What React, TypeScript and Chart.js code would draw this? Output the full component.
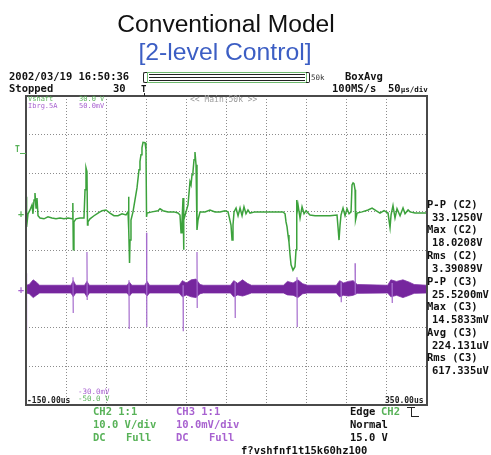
import React, { useEffect, useRef } from "react";
import { Chart, registerables } from "chart.js";

Chart.register(...registerables);

// ---- time base / vertical scales (as shown on the scope) ----
const timeStartUs = -150;
const timeEndUs = 350;
const timeStepUs = 50;
const greenVoltsMin = -50; // CH2, 10 V/div
const greenVoltsMax = 30;
const purpleMvMin = -30; // CH3, 10 mV/div
const purpleMvMax = 50;

// ---- CH2 (Vshaft, volts) ----
const greenTimeUs = [
  -150, -149.5, -149, -147.5, -145, -142.5, -141.3, -140, -138.8, -137.5, -136.3, -135, -132.5, -127.6, -122.6,
  -117.6, -112.6, -107.6, -102.6, -97.6, -92.6, -91.6, -91, -90.2, -87.7, -82.7, -77.7, -76.4, -75.2, -74, -73.3,
  -72.7, -70.2, -65.2, -60.2, -55.2, -50.2, -45.3, -40.3, -35.3, -30.3, -25.3, -22.8, -22.2, -21.6, -20.9, -20.3,
  -19.1, -16.6, -14.1, -11.6, -9.1, -7.9, -6.6, -5.4, -4.1, -1.6, -0.4, 0.3, 0.9, 7.1, 14.6, 17.1, 20.8, 27.1,
  34.6, 39.5, 42, 43.3, 44.5, 45.8, 46.4, 47, 49.5, 52, 54.5, 55.8, 57, 58.2, 59.5, 60.7, 62, 63.2, 64.5, 67, 73.2,
  79.4, 85.7, 91.9, 98.1, 101.9, 105.6, 106.9, 108.1, 109.4, 111.9, 114.4, 116.9, 119.4, 121.8, 124.3, 126.8,
  129.3, 135.6, 148, 160.5, 170.5, 173, 174.2, 175.5, 176.7, 177.9, 179.2, 180.5, 182.9, 185.4, 186.7, 187.3,
  187.9, 189.2, 191.7, 194.2, 196.7, 199.2, 204.1, 210.4, 216.6, 229.1, 237.8, 239.1, 240.3, 241.6, 242.8, 245.3,
  247.8, 250.3, 252.8, 255.3, 256.5, 257.8, 259, 260.3, 260.9, 262.8, 269, 276.5, 281.5, 286.4, 291.4, 296.4,
  301.4, 303.9, 305.2, 307.6, 310.1, 312.6, 316.4, 320.1, 322.6, 326.4, 328.8, 335.1, 350,
];
const greenVolts = [
  -0.3, 3.9, -3.9, -0.5, 0.5, 1.8, -0.5, 3.1, 4.9, 1.0, 3.6, -1.0, -1.6, -1.8, -1.3,
  -1.6, -1.8, -1.6, -1.8, -1.6, -1.8, 2.3, -9.8, -2.6, -1.8, -1.6, -1.6, 5.7, 11.4, 10.4, -3.4,
  -2.6, -1.8, -1.0, -0.3, 0.3, 0.5, -0.3, -1.0, -1.0, -0.5, -0.8, 0, 3.9, -4.7, -13.2, -7.3,
  -2.1, 0, 3.1, 6.2, 10.9, 13.0, 14.8, 16.6, 18.0, 17.9, 16.1, -1.3, -0.3, 0, 0.3, 0.8, 0.3, 0,
  0, -0.3, -0.8, -5.4, -2.6, 3.6, -9.8, -2.1, 0, 1.8, 7.8, 7.0, 9.6, 10.4, 13.5, 15.5, 12.2, -4.7, -2.1, 0, 0,
  0.5, 0, 0, 0.3, 0, -3.4, -7.3, -3.4, 0, 1.0, -1.0, 1.0, -1.0, 1.3, -0.5, 0.5,
  -0.3, 0, 0, 0, 0, -0.5, -2.6, -3.9, -6.0, -7.8, -11.1, -13.7, -15.1, -14.2, -9.8, 3.1,
  -0.8, 1.8, -1.6, 1.3, -0.5, 0.3, -0.8, -1.0, -1.0, -1.0, -0.8, -4.1, -7.3, -3.4, -0.8, 1.0,
  -1.0, 0.8, -0.5, 0, 7.0, 7.5, 7.3, 5.7, -2.1, -0.3, 0, 0.5, 1.0, 0.3, -0.3, 0.3,
  -0.3, -4.1, -0.8, 1.6, -1.6, 0.8, -1.0, 1.0, -0.5, 0.5, 0, -0.3, -0.3,
];

// ---- CH3 (Ibrg, millivolts): noise envelope + spikes ----
const purpleBandTimeUs = [
  -150, -146, -141, -137, -133, -94, -91, -88, -77, -74, -71, -24, -21, -18, -2, 1, 4, 41, 45, 50, 56, 62, 67, 71,
  105, 109, 114, 120, 126, 131, 171, 176, 183, 189, 195, 201, 237, 241, 246, 252, 258, 263, 301, 305, 312, 320,
  328, 334, 350,
];
const purpleBandUpperMv = [
  1.0, 1.2, 2.4, 1.8, 1.0, 1.0, 2.2, 1.0, 1.0, 2.0, 1.0, 1.0, 1.8, 1.0, 1.0, 2.0, 1.0, 1.0, 2.2, 1.6, 2.4, 2.6, 1.2, 1.0,
  1.0, 2.2, 1.5, 2.4, 1.5, 1.0, 1.0, 2.0, 1.6, 2.4, 1.4, 1.0, 1.0, 2.2, 1.6, 2.0, 2.2, 1.2, 1.0, 2.4, 2.0, 2.4,
  1.8, 1.2, 1.0,
];
const purpleBandLowerMv = [
  -1.0, -1.2, -2.2, -1.6, -1.0, -1.0, -2.0, -1.0, -1.0, -2.0, -1.0, -1.0, -1.8, -1.0, -1.0, -1.8, -1.0, -1.0, -2.0, -1.5,
  -2.0, -2.2, -1.2, -1.0, -1.0, -2.0, -1.5, -1.8, -1.4, -1.0, -1.0, -1.5, -1.6, -2.2, -1.2, -1.0, -1.0, -2.0, -1.6,
  -1.8, -1.6, -1.1, -1.0, -2.0, -1.6, -2.2, -1.6, -1.1, -1.0,
];
const purpleSpikeTimeUs = [-149.6, -91.4, -74, -21.6, 0.3, 45.8, 63.2, 110.6, 187.9, 242.8, 260.3, 306.4];
const purpleSpikeHighMv = [4.1, 3.1, 9.6, 2.3, 14.6, 1.0, 9.6, 1.8, 3.1, 1.8, 6.7, 1.6];
const purpleSpikeLowMv = [-10.6, -6.2, -2.8, -10.3, -9.8, -10.9, -4.9, -7.5, -9.8, -3.4, -1.3, -3.6];

// ---- texts ----
const titleLines = ["Conventional Model", "[2-level Control]"];
const timeAxisLabels = ["-150.00us", "350.00us"];
const measurementLabels = ["P-P (C2)", "Max (C2)", "Rms (C2)", "P-P (C3)", "Max (C3)", "Avg (C3)", "Rms (C3)"];
const measurementValues = ["33.1250V", "18.0208V", "3.39089V", "25.5200mV", "14.5833mV", "224.131uV", "617.335uV"];
const ch2Lines = ["CH2 1:1", "10.0 V/div"];
const ch3Lines = ["CH3 1:1", "10.0mV/div"];
const triggerLines = ["Normal", "15.0 V"];

const MONO = "'DejaVu Sans Mono', 'Liberation Mono', monospace";
const SANS = "'Liberation Sans', Arial, sans-serif";
const GREEN_TXT = "rgb(88,178,88)";
const PURPLE_TXT = "rgb(168,98,208)";

function T(props: {
  x: number;
  y: number;
  s?: number;
  c?: string;
  w?: number;
  f?: string;
  style?: React.CSSProperties;
  children: React.ReactNode;
}) {
  const s = props.s ?? 10.5;
  return (
    <div
      style={{
        position: "absolute",
        left: props.x,
        top: props.y - s / 2,
        fontSize: s,
        lineHeight: `${s}px`,
        color: props.c ?? "#111",
        fontWeight: props.w ?? 700,
        fontFamily: props.f ?? MONO,
        whiteSpace: "pre",
        ...props.style,
      }}
    >
      {props.children}
    </div>
  );
}

function Box(props: { x: number; y: number; w: number; h: number; style?: React.CSSProperties }) {
  return (
    <div
      style={{
        position: "absolute",
        left: props.x,
        top: props.y,
        width: props.w,
        height: props.h,
        boxSizing: "border-box",
        ...props.style,
      }}
    />
  );
}

const framePlugin = {
  id: "scopeFrame",
  beforeDraw(chart: any) {
    const { ctx, width, height } = chart;
    ctx.save();
    ctx.fillStyle = "#ffffff";
    ctx.fillRect(0, 0, width, height);
    ctx.restore();
  },
  afterDraw(chart: any) {
    const { ctx, chartArea: a } = chart;
    ctx.save();
    ctx.strokeStyle = "#4a4a4a";
    ctx.lineWidth = 2;
    ctx.strokeRect(a.left, a.top, a.right - a.left, a.bottom - a.top);
    ctx.restore();
  },
};

export default function App() {
  const ref = useRef<HTMLCanvasElement>(null);

  useEffect(() => {
    if (!ref.current) return;
    const green = greenTimeUs.map((t, i) => ({ x: t, y: greenVolts[i] }));
    const upper = purpleBandTimeUs.map((t, i) => ({ x: t, y: purpleBandUpperMv[i] }));
    const lower = purpleBandTimeUs.map((t, i) => ({ x: t, y: purpleBandLowerMv[i] }));
    const spikes: { x: number; y: number | null }[] = [];
    purpleSpikeTimeUs.forEach((t, i) => {
      spikes.push({ x: t, y: purpleSpikeHighMv[i] });
      spikes.push({ x: t + 0.3, y: purpleSpikeLowMv[i] });
      spikes.push({ x: t + 0.35, y: null });
    });
    const gridOpts = { color: "#8c8c8c", lineWidth: 1, drawTicks: false };
    const borderOpts = { display: false, dash: [1, 2] };
    const chart = new Chart(ref.current, {
      type: "line",
      data: {
        datasets: [
          {
            data: green,
            yAxisID: "y",
            borderColor: "rgb(60,162,60)",
            borderWidth: 1.5,
            pointRadius: 0,
            fill: false,
          },
          {
            data: spikes as any,
            yAxisID: "y2",
            borderColor: "rgb(165,108,205)",
            borderWidth: 1.2,
            pointRadius: 0,
            spanGaps: false,
            fill: false,
          },
          {
            data: upper,
            yAxisID: "y2",
            borderColor: "rgb(128,52,168)",
            backgroundColor: "rgb(118,38,158)",
            borderWidth: 0.8,
            pointRadius: 0,
            fill: "+1",
          },
          {
            data: lower,
            yAxisID: "y2",
            borderColor: "rgb(128,52,168)",
            borderWidth: 0.8,
            pointRadius: 0,
            fill: false,
          },
        ],
      },
      options: {
        animation: false,
        responsive: false,
        maintainAspectRatio: false,
        layout: { padding: { left: 26, top: 96, right: 64, bottom: 50 } },
        plugins: { legend: { display: false }, tooltip: { enabled: false }, title: { display: false } },
        elements: { line: { tension: 0 }, point: { radius: 0 } },
        scales: {
          x: {
            type: "linear",
            min: timeStartUs,
            max: timeEndUs,
            ticks: { display: false, stepSize: timeStepUs },
            grid: gridOpts,
            border: borderOpts,
          },
          y: {
            type: "linear",
            min: greenVoltsMin,
            max: greenVoltsMax,
            ticks: { display: false, stepSize: 10 },
            grid: gridOpts,
            border: borderOpts,
          },
          y2: {
            type: "linear",
            display: false,
            min: purpleMvMin,
            max: purpleMvMax,
          },
        },
      } as any,
      plugins: [framePlugin],
    });
    return () => chart.destroy();
  }, []);

  return (
    <div style={{ position: "absolute", left: 0, top: 0, width: 491, height: 455, background: "#fff", overflow: "hidden" }}>
      <canvas ref={ref} width={491} height={455} style={{ position: "absolute", left: 0, top: 0, width: 491, height: 455 }} />

      {/* title */}
      <T x={226} y={24} s={23} c="#111" w={400} f={SANS} style={{ transform: "translateX(-50%) scaleX(1.07)" }}>
        {titleLines[0]}
      </T>
      <T x={225} y={51.5} s={24} c="rgb(60,94,196)" w={400} f={SANS} style={{ transform: "translateX(-50%) scaleX(1.03)" }}>
        {titleLines[1]}
      </T>

      {/* header */}
      <T x={9} y={76}>2002/03/19 16:50:36</T>
      <T x={9} y={88}>Stopped</T>
      <T x={113} y={88}>30</T>
      <T x={345} y={76}>BoxAvg</T>
      <T x={332} y={88}>100MS/s</T>
      <T x={388} y={88}>
        50<span style={{ fontSize: 7.5 }}>µs/div</span>
      </T>

      {/* record bar */}
      <Box x={143} y={72} w={4} h={11} style={{ border: "1.3px solid #222", borderRight: "none", borderRadius: "2px 0 0 2px" }} />
      <Box x={147} y={72} w={160} h={11} style={{ border: "1px solid rgb(110,185,110)" }} />
      <Box x={149} y={73.8} w={156} h={1.4} style={{ background: "#222" }} />
      <Box x={149} y={76.9} w={156} h={1.4} style={{ background: "#222" }} />
      <Box x={149} y={80} w={156} h={1.4} style={{ background: "#222" }} />
      <Box x={306} y={72} w={4} h={11} style={{ border: "1.3px solid #222", borderLeft: "none", borderRadius: "0 2px 2px 0" }} />
      <T x={311} y={77.5} s={7.5} w={400} c="#333">50k</T>
      <T x={141} y={89} s={9}>T</T>
      <Box x={144} y={93} w={1.2} h={3} style={{ background: "#222" }} />

      {/* labels inside the graticule */}
      <T x={28} y={99.5} s={7} w={400} c={GREEN_TXT}>Vshaft</T>
      <T x={79} y={99.5} s={7} w={400} c={GREEN_TXT}>30.0 V</T>
      <T x={28} y={106} s={7} w={400} c={PURPLE_TXT}>Ibrg.5A</T>
      <T x={79} y={106} s={7} w={400} c={PURPLE_TXT}>50.0mV</T>
      <T x={190} y={100} s={8} w={400} c="#9a9a9a">{"<< Main:50k >>"}</T>
      <T x={27} y={401} s={8} w={700} c="#222">{timeAxisLabels[0]}</T>
      <T x={385} y={401} s={8} w={700} c="#222">{timeAxisLabels[1]}</T>
      <T x={78} y={392} s={7.5} w={400} c={PURPLE_TXT}>-30.0mV</T>
      <T x={78} y={399} s={7.5} w={400} c={GREEN_TXT}>-50.0 V</T>

      {/* channel markers on the left */}
      <T x={15} y={150} s={8} w={700} c={GREEN_TXT}>T</T>
      <Box x={20} y={153} w={6} h={1} style={{ background: GREEN_TXT }} />
      <T x={18} y={214} s={10} w={700} c={GREEN_TXT}>+</T>
      <T x={18} y={290} s={10} w={700} c={PURPLE_TXT}>+</T>

      {/* measurements */}
      {measurementLabels.map((l, i) => (
        <T key={"l" + i} x={427} y={204 + i * 25.6}>
          {l}
        </T>
      ))}
      {measurementValues.map((v, i) => (
        <T key={"v" + i} x={432} y={217 + i * 25.6}>
          {v}
        </T>
      ))}

      {/* channel settings */}
      <T x={93} y={411} c={GREEN_TXT}>{ch2Lines[0]}</T>
      <T x={93} y={424} c={GREEN_TXT}>{ch2Lines[1]}</T>
      <T x={93} y={437} c={GREEN_TXT}>DC</T>
      <T x={126} y={437} c={GREEN_TXT}>Full</T>
      <T x={176} y={411} c={PURPLE_TXT}>{ch3Lines[0]}</T>
      <T x={176} y={424} c={PURPLE_TXT}>{ch3Lines[1]}</T>
      <T x={176} y={437} c={PURPLE_TXT}>DC</T>
      <T x={209} y={437} c={PURPLE_TXT}>Full</T>

      {/* trigger */}
      <T x={350} y={411}>Edge</T>
      <T x={381} y={411} c={GREEN_TXT}>CH2</T>
      <Box x={407} y={407} w={8} h={1.4} style={{ background: "#222" }} />
      <Box x={411} y={407} w={1.4} h={10} style={{ background: "#222" }} />
      <Box x={411} y={416} w={8} h={1.4} style={{ background: "#222" }} />
      <T x={350} y={424}>{triggerLines[0]}</T>
      <T x={350} y={437}>{triggerLines[1]}</T>
      <T x={241} y={450}>f?vshfnf1t15k60hz100</T>
    </div>
  );
}
